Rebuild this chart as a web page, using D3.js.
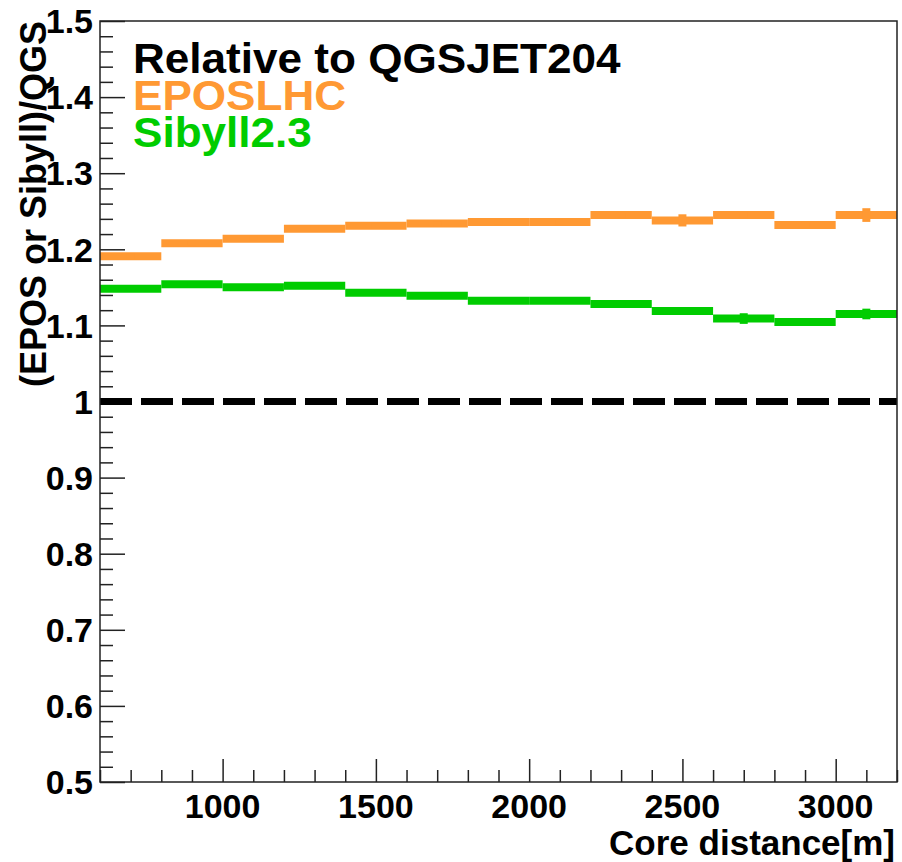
<!DOCTYPE html>
<html>
<head>
<meta charset="utf-8">
<script src="https://cdn.jsdelivr.net/npm/d3@7"></script>
<style>
	body { margin: 0; background: #fff; }
	text { font-family: "Liberation Sans", Arial, Helvetica, sans-serif; font-weight: bold; }
</style>
</head>
<body>
<div id="chart-area"></div>
<script>
// Data: bin edges (core distance, m) and ratios to QGSJET204
const binEdges = [600, 800, 1000, 1200, 1400, 1600, 1800, 2000, 2200, 2400, 2600, 2800, 3000, 3200]
const eposRatio = [1.191, 1.208, 1.214, 1.227, 1.231, 1.234, 1.236, 1.236, 1.245, 1.238, 1.245, 1.232, 1.245]
const eposErr = [0.003, 0.003, 0.003, 0.003, 0.003, 0.003, 0.003, 0.003, 0.003, 0.008, 0.003, 0.003, 0.009]
const sibyllRatio = [1.148, 1.154, 1.150, 1.152, 1.143, 1.139, 1.1325, 1.1325, 1.128, 1.119, 1.109, 1.1045, 1.115]
const sibyllErr = [0.003, 0.003, 0.003, 0.003, 0.003, 0.003, 0.003, 0.003, 0.003, 0.003, 0.007, 0.003, 0.007]
const xTickValues = [1000, 1500, 2000, 2500, 3000]
const yTickValues = [0.5, 0.6, 0.7, 0.8, 0.9, 1.0, 1.1, 1.2, 1.3, 1.4, 1.5]
const legendLines = ["Relative to QGSJET204", "EPOSLHC", "Sibyll2.3"]

// Set up margins
const MARGINS = { TOP: 21, BOTTOM: 80, LEFT: 100, RIGHT: 5 }
const HEIGHT = 862 - MARGINS.TOP - MARGINS.BOTTOM
const WIDTH = 902 - MARGINS.LEFT - MARGINS.RIGHT

const COLORS = { epos: "#ff9933", sibyll: "#00cc00", text: "#000" }

const svg = d3.select("#chart-area").append("svg")
	.attr("width", 902)
	.attr("height", 862)

const g = svg.append("g")
	.attr("transform", `translate(${MARGINS.LEFT}, ${MARGINS.TOP})`)

// Scales
const x = d3.scaleLinear()
	.domain([binEdges[0], binEdges[binEdges.length - 1]])
	.range([0, WIDTH])

const y = d3.scaleLinear()
	.domain([0.5, 1.5])
	.range([HEIGHT, 0])

// Axes (ROOT style: ticks inside the frame)
const xMinor = d3.range(600, 3201, 100).filter(v => !xTickValues.includes(v))
const yMinor = d3.range(0, 51).map(i => +(0.5 + i * 0.02).toFixed(2)).filter(v => !yTickValues.some(t => Math.abs(t - v) < 1e-6))

g.append("g")
	.attr("class", "x minor")
	.attr("transform", `translate(0, ${HEIGHT})`)
	.call(d3.axisTop(x).tickValues(xMinor).tickSize(12).tickFormat(""))

g.append("g")
	.attr("class", "x axis")
	.attr("transform", `translate(0, ${HEIGHT})`)
	.call(d3.axisTop(x).tickValues(xTickValues).tickSize(23).tickFormat(""))

g.append("g")
	.attr("class", "y minor")
	.call(d3.axisRight(y).tickValues(yMinor).tickSize(13).tickFormat(""))

g.append("g")
	.attr("class", "y axis")
	.call(d3.axisRight(y).tickValues(yTickValues).tickSize(25).tickFormat(""))

g.selectAll(".domain").remove()
g.selectAll(".tick line")
	.attr("stroke", "#222")
	.attr("stroke-width", 1.5)

// Tick labels
g.append("g").selectAll("text")
	.data(xTickValues)
	.join("text")
	.attr("x", d => x(d))
	.attr("y", HEIGHT + 36)
	.attr("text-anchor", "middle")
	.attr("font-size", "34px")
	.text(d => d)

g.append("g").selectAll("text")
	.data(yTickValues)
	.join("text")
	.attr("x", -7)
	.attr("y", d => y(d))
	.attr("dy", "0.36em")
	.attr("text-anchor", "end")
	.attr("font-size", "34px")
	.text(d => String(+d.toFixed(1)))

// Axis titles
g.append("text")
	.attr("x", WIDTH - 2)
	.attr("y", HEIGHT + 73)
	.attr("text-anchor", "end")
	.attr("font-size", "35px")
	.text("Core distance[m]")

svg.append("text")
	.attr("transform", "rotate(-90)")
	.attr("x", -21)
	.attr("y", 46)
	.attr("text-anchor", "end")
	.attr("font-size", "36px")
	.text("(EPOS or Sibyll)/QGS")

// Reference line at 1
g.append("line")
	.attr("x1", 0)
	.attr("x2", WIDTH)
	.attr("y1", y(1))
	.attr("y2", y(1))
	.attr("stroke", "#000")
	.attr("stroke-width", 7)
	.attr("stroke-dasharray", "32 9")

// Histograms drawn as thick horizontal bin segments with error bars
function drawHist(values, errs, color) {
	const bins = values.map((v, i) => ({ x0: binEdges[i], x1: binEdges[i + 1], v: v, e: errs[i] }))
	const hg = g.append("g")
	hg.selectAll("line.bin")
		.data(bins)
		.join("line")
		.attr("class", "bin")
		.attr("x1", d => x(d.x0))
		.attr("x2", d => x(d.x1))
		.attr("y1", d => y(d.v))
		.attr("y2", d => y(d.v))
		.attr("stroke", color)
		.attr("stroke-width", 8)
	hg.selectAll("line.err")
		.data(bins)
		.join("line")
		.attr("class", "err")
		.attr("x1", d => x((d.x0 + d.x1) / 2))
		.attr("x2", d => x((d.x0 + d.x1) / 2))
		.attr("y1", d => y(d.v - d.e))
		.attr("y2", d => y(d.v + d.e))
		.attr("stroke", color)
		.attr("stroke-width", 8)
}

drawHist(eposRatio, eposErr, COLORS.epos)
drawHist(sibyllRatio, sibyllErr, COLORS.sibyll)

// Frame
g.append("rect")
	.attr("width", WIDTH)
	.attr("height", HEIGHT)
	.attr("fill", "none")
	.attr("stroke", "#222")
	.attr("stroke-width", 1.5)

// Legend text (ROOT's Helvetica renders a little wider)
const legendColors = [COLORS.text, COLORS.epos, COLORS.sibyll]
svg.append("g")
	.attr("transform", "translate(133, 0) scale(1.05, 1)")
	.selectAll("text")
	.data(legendLines)
	.join("text")
	.attr("x", 0)
	.attr("y", (d, i) => 73 + i * 37)
	.attr("font-size", "42px")
	.attr("fill", (d, i) => legendColors[i])
	.text(d => d)
</script>
</body>
</html>
